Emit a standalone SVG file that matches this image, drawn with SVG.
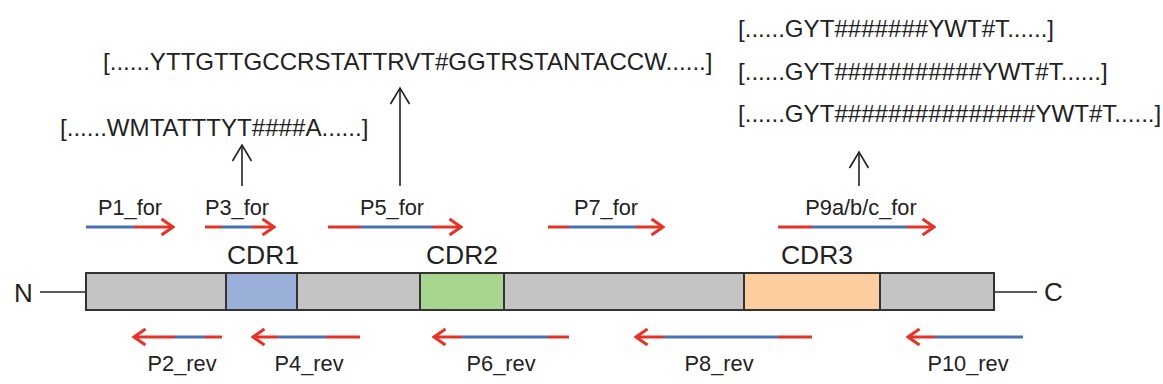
<svg xmlns="http://www.w3.org/2000/svg" width="1163" height="384" viewBox="0 0 1163 384">
<style>
text{font-family:"Liberation Sans",Arial,sans-serif;fill:#222}
.seq{font-size:24.1px}
.lbl{font-size:21.8px;text-anchor:middle}
.cdr{font-size:26.5px;text-anchor:middle}
.term{font-size:26px}
.seg{stroke:#333;stroke-width:2}
.r{stroke:#e63327;stroke-width:3;fill:none}
.b{stroke:#4a6fb5;stroke-width:3;fill:none}
.ra{stroke:#e63327;stroke-width:3;fill:none;marker-end:url(#rh)}
.k{stroke:#222;stroke-width:1.6;fill:none}
.ka{stroke:#222;stroke-width:1.6;fill:none;marker-end:url(#kh)}
</style>
<defs>
<marker id="rh" markerUnits="userSpaceOnUse" viewBox="-14 -10 16 20" markerWidth="16" markerHeight="20" refX="0" refY="0" orient="auto">
<path d="M-11.5,-8 L0,0 L-11.5,8" stroke="#e63327" stroke-width="3" fill="none"/>
</marker>
<marker id="kh" markerUnits="userSpaceOnUse" viewBox="-18 -12 20 24" markerWidth="20" markerHeight="24" refX="0" refY="0" orient="auto">
<path d="M-16,-9.5 L0,0 L-16,9.5" stroke="#222" stroke-width="1.6" fill="none"/>
</marker>
</defs>

<g id="sequences">
<text id="seq-p5" class="seq" x="103" y="70">[......YTTGTTGCCRSTATTRVT#GGTRSTANTACCW......]</text>
<text id="seq-p3" class="seq" x="60" y="136">[......WMTATTTYT####A......]</text>
<text id="seq-p9a" class="seq" x="738" y="37">[......GYT#######YWT#T......]</text>
<text id="seq-p9b" class="seq" x="738" y="80">[......GYT###########YWT#T......]</text>
<text id="seq-p9c" class="seq" x="738" y="122">[......GYT###############YWT#T......]</text>
</g>

<g id="connectors">
<line class="ka" x1="242" y1="186" x2="242" y2="145"/>
<line class="ka" x1="400" y1="186" x2="400" y2="88"/>
<line class="ka" x1="859" y1="186" x2="859" y2="152"/>
<line class="k" x1="40" y1="292" x2="86" y2="292"/>
<line class="k" x1="994" y1="292" x2="1037" y2="292"/>
</g>

<g id="protein">
<g id="fr1"><rect class="seg" x="86" y="273" width="140" height="37" fill="#c4c4c4"/></g>
<g id="cdr1"><rect class="seg" x="226" y="273" width="71" height="37" fill="#9bb0d9"/><text class="cdr" x="263" y="264">CDR1</text></g>
<g id="fr2"><rect class="seg" x="297" y="273" width="123" height="37" fill="#c4c4c4"/></g>
<g id="cdr2"><rect class="seg" x="420" y="273" width="84" height="37" fill="#a8d58f"/><text class="cdr" x="462" y="264">CDR2</text></g>
<g id="fr3"><rect class="seg" x="504" y="273" width="240" height="37" fill="#c4c4c4"/></g>
<g id="cdr3"><rect class="seg" x="744" y="273" width="136" height="37" fill="#fecd9f"/><text class="cdr" x="817" y="264">CDR3</text></g>
<g id="fr4"><rect class="seg" x="880" y="273" width="114" height="37" fill="#c4c4c4"/></g>
<g id="nterm"><text class="term" x="14" y="302">N</text></g>
<g id="cterm"><text class="term" x="1044" y="301">C</text></g>
</g>

<g id="P1_for"><line class="b" x1="86" y1="227" x2="134" y2="227"/><line class="ra" x1="134" y1="227" x2="173" y2="227"/><text class="lbl" x="130" y="215">P1_for</text></g>
<g id="P3_for"><line class="r" x1="205" y1="227" x2="222" y2="227"/><line class="b" x1="222" y1="227" x2="252" y2="227"/><line class="ra" x1="252" y1="227" x2="274" y2="227"/><text class="lbl" x="237" y="215">P3_for</text></g>
<g id="P5_for"><line class="r" x1="328" y1="227" x2="361" y2="227"/><line class="b" x1="361" y1="227" x2="433" y2="227"/><line class="ra" x1="433" y1="227" x2="461" y2="227"/><text class="lbl" x="392" y="215">P5_for</text></g>
<g id="P7_for"><line class="r" x1="548" y1="227" x2="569" y2="227"/><line class="b" x1="569" y1="227" x2="636" y2="227"/><line class="ra" x1="636" y1="227" x2="663" y2="227"/><text class="lbl" x="606" y="215">P7_for</text></g>
<g id="P9_for"><line class="r" x1="778" y1="227" x2="812" y2="227"/><line class="b" x1="812" y1="227" x2="907" y2="227"/><line class="ra" x1="907" y1="227" x2="934" y2="227"/><text class="lbl" x="861" y="215">P9a/b/c_for</text></g>

<g id="P2_rev"><line class="r" x1="222" y1="337" x2="205" y2="337"/><line class="b" x1="205" y1="337" x2="175" y2="337"/><line class="ra" x1="175" y1="337" x2="134" y2="337"/><text class="lbl" x="182" y="371">P2_rev</text></g>
<g id="P4_rev"><line class="r" x1="360" y1="337" x2="326" y2="337"/><line class="b" x1="326" y1="337" x2="278" y2="337"/><line class="ra" x1="278" y1="337" x2="253" y2="337"/><text class="lbl" x="309" y="371">P4_rev</text></g>
<g id="P6_rev"><line class="r" x1="569" y1="337" x2="548" y2="337"/><line class="b" x1="548" y1="337" x2="462" y2="337"/><line class="ra" x1="462" y1="337" x2="434" y2="337"/><text class="lbl" x="501" y="371">P6_rev</text></g>
<g id="P8_rev"><line class="r" x1="812" y1="337" x2="778" y2="337"/><line class="b" x1="778" y1="337" x2="664" y2="337"/><line class="ra" x1="664" y1="337" x2="636" y2="337"/><text class="lbl" x="719" y="371">P8_rev</text></g>
<g id="P10_rev"><line class="b" x1="1023" y1="337" x2="935" y2="337"/><line class="ra" x1="935" y1="337" x2="908" y2="337"/><text class="lbl" x="968" y="371">P10_rev</text></g>
</svg>
